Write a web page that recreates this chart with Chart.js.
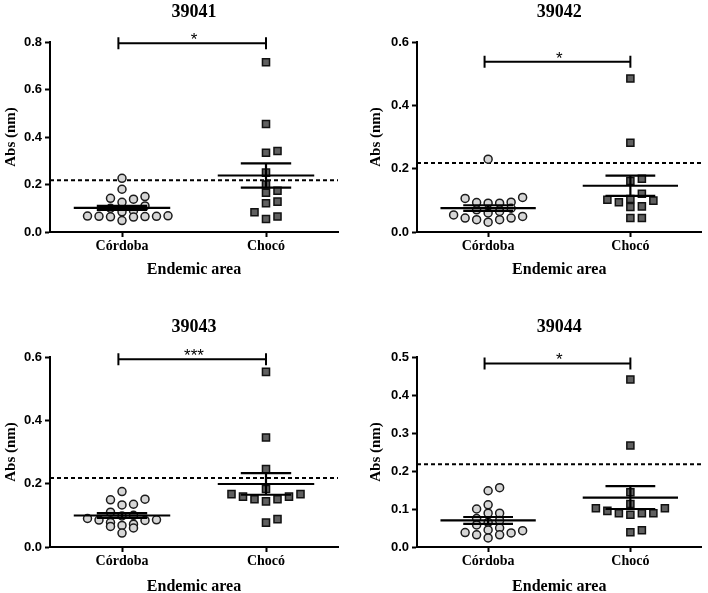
<!DOCTYPE html>
<html><head><meta charset="utf-8">
<script src="https://cdn.jsdelivr.net/npm/chart.js@4.4.1/dist/chart.umd.min.js"></script>
<style>
html,body{margin:0;padding:0;background:#fff;width:708px;height:593px;overflow:hidden}
canvas{position:absolute}
</style></head><body>
<canvas id="c0" width="354" height="278" style="left:0;top:0"></canvas>
<canvas id="c1" width="354" height="278" style="left:354px;top:0"></canvas>
<canvas id="c2" width="354" height="278" style="left:0;top:315px"></canvas>
<canvas id="c3" width="354" height="278" style="left:354px;top:315px"></canvas>
<script>
// ---------- data ----------
const categories = ['Córdoba', 'Chocó'];
const panelTitles = ['39041', '39042', '39043', '39044'];
const xAxisTitle = 'Endemic area';
const yAxisTitle = 'Abs (nm)';

const cordoba39041 = [0.226, 0.180, 0.149, 0.142, 0.138, 0.125, 0.110, 0.100, 0.090, 0.085, 0.068, 0.067, 0.066, 0.066, 0.065, 0.064, 0.063, 0.048];
const choco39041   = [0.715, 0.455, 0.341, 0.334, 0.250, 0.200, 0.174, 0.165, 0.128, 0.121, 0.083, 0.065, 0.055];
const cordoba39042 = [0.230, 0.109, 0.106, 0.094, 0.093, 0.091, 0.091, 0.075, 0.070, 0.065, 0.060, 0.054, 0.049, 0.044, 0.044, 0.039, 0.039, 0.031];
const choco39042   = [0.485, 0.282, 0.168, 0.161, 0.121, 0.104, 0.102, 0.099, 0.094, 0.081, 0.079, 0.044, 0.044];
const cordoba39043 = [0.175, 0.151, 0.149, 0.135, 0.133, 0.110, 0.100, 0.098, 0.090, 0.086, 0.085, 0.084, 0.077, 0.072, 0.068, 0.065, 0.060, 0.044];
const choco39043   = [0.553, 0.346, 0.246, 0.183, 0.167, 0.167, 0.159, 0.159, 0.151, 0.151, 0.144, 0.088, 0.077];
const cordoba39044 = [0.156, 0.148, 0.111, 0.100, 0.089, 0.089, 0.075, 0.070, 0.065, 0.058, 0.050, 0.045, 0.043, 0.038, 0.037, 0.032, 0.032, 0.024];
const choco39044   = [0.441, 0.267, 0.144, 0.113, 0.102, 0.102, 0.095, 0.089, 0.089, 0.089, 0.085, 0.044, 0.039];

const cordobaSeries = [cordoba39041, cordoba39042, cordoba39043, cordoba39044];
const chocoSeries   = [choco39041, choco39042, choco39043, choco39044];

const meanCordoba = [0.102, 0.0755, 0.0995, 0.070];
const semCordoba  = [0.0085, 0.009, 0.0075, 0.009];
const meanChoco   = [0.238, 0.146, 0.199, 0.130];
const semChoco    = [0.051, 0.032, 0.034, 0.030];

const cutoff = 0.218;
const bracketLevel = [0.795, 0.538, 0.593, 0.483];
const sigLabels = ['*', '*', '***', '*'];

const yMaxes = [0.8, 0.6, 0.6, 0.5];
const ySteps = [0.2, 0.2, 0.2, 0.1];

// ---------- styling / layout constants ----------
const SERIF = 'Liberation Serif';
const SANS = 'Liberation Sans';
const COL_PX = 11.5;      // horizontal spacing of spread points
const ROW_TOL_PX = 7.5;   // vertical tolerance for grouping points into rows
const MEAN_HALF = 0.335;
const SEM_HALF = 0.175;
const BRACKET_TICK_PX = 6;
const GAP = {x: NaN, y: NaN};

function meanSemPath(c, m, s) {
  return [
    {x: c - MEAN_HALF, y: m}, {x: c + MEAN_HALF, y: m}, GAP,
    {x: c - SEM_HALF, y: m + s}, {x: c + SEM_HALF, y: m + s}, GAP,
    {x: c - SEM_HALF, y: m - s}, {x: c + SEM_HALF, y: m - s}, GAP,
    {x: c, y: m - s}, {x: c, y: m + s}
  ];
}

function swarm(values, center, chart) {
  const ys = chart.scales.y, xs = chart.scales.x;
  const pxPerY = (ys.bottom - ys.top) / (ys.max - ys.min);
  const pxPerX = (xs.right - xs.left) / (xs.max - xs.min);
  const tol = ROW_TOL_PX / pxPerY;
  const step = COL_PX / pxPerX;
  const idx = values.map((v, i) => i).sort((a, b) => values[a] - values[b]);
  const out = new Array(values.length);
  let k = 0;
  while (k < idx.length) {
    const start = values[idx[k]];
    const row = [];
    let j = k;
    while (j < idx.length && values[idx[j]] <= start + tol + 1e-9) { row.push(idx[j]); j++; }
    row.forEach((p, r) => {
      const c = r === 0 ? 0 : (r % 2 === 1 ? (r + 1) / 2 : -r / 2);
      out[p] = {x: center + c * step, y: values[p]};
    });
    k = j;
  }
  return out;
}

function bracketPath(i, half) {
  const b = bracketLevel[i];
  const x1 = 0.975, x2 = 2;
  return [
    {x: x1, y: b + half}, {x: x1, y: b - half}, GAP,
    {x: x1, y: b}, {x: x2, y: b}, GAP,
    {x: x2, y: b + half}, {x: x2, y: b - half}
  ];
}

const sigPlugin = {
  id: 'sig',
  afterDatasetsDraw(chart, args, opts) {
    const {ctx} = chart;
    const x = chart.scales.x, y = chart.scales.y;
    ctx.save();
    ctx.font = '17px "' + SANS + '"';
    ctx.fillStyle = '#000';
    ctx.textAlign = 'center';
    ctx.textBaseline = 'alphabetic';
    ctx.fillText(opts.label, x.getPixelForValue(1.5), y.getPixelForValue(opts.level) + 2);
    ctx.restore();
  }
};

const lineDs = (data, extra) => Object.assign({
  data, showLine: true, borderColor: '#000', borderWidth: 2.2, pointRadius: 0, pointHoverRadius: 0,
  tension: 0, spanGaps: false, fill: false, borderCapStyle: 'butt'
}, extra || {});

const charts = [];
for (let i = 0; i < 4; i++) {
  const isRight = i % 2 === 1;
  const isBottom = i >= 2;
  const padBottom = isBottom ? 0 : 2;
  const xAxisH = 278 - padBottom - 232;
  const yAxisW = isRight ? 63 : 50;
  const tickFontX = {family: SERIF, size: 14, weight: 'bold'};
  const cfg = {
    type: 'scatter',
    data: {
      datasets: [
        lineDs([{x: 0.5, y: cutoff}, {x: 2.5, y: cutoff}], {borderDash: [4, 3], borderWidth: 2, order: 4}),
        {data: cordobaSeries[i].map(v => ({x: 1, y: v})), pointStyle: 'circle', pointRadius: 4, pointHoverRadius: 4,
         backgroundColor: '#d6d6d6', borderColor: '#1c1c1c', borderWidth: 1.5, order: 3},
        {data: chocoSeries[i].map(v => ({x: 2, y: v})), pointStyle: 'rect', pointRadius: 5, pointHoverRadius: 5,
         backgroundColor: '#606060', borderColor: '#111', borderWidth: 1.5, order: 2},
        lineDs(meanSemPath(1, meanCordoba[i], semCordoba[i]), {order: 1}),
        lineDs(meanSemPath(2, meanChoco[i], semChoco[i]), {order: 1}),
        lineDs(bracketPath(i, 0.02), {order: 0, clip: false, borderWidth: 2})
      ]
    },
    options: {
      responsive: false, animation: false, events: [],
      layout: {padding: {left: 0, right: isRight ? 3 : 16, top: 0, bottom: padBottom}},
      plugins: {
        legend: {display: false}, tooltip: {enabled: false},
        title: {display: true, text: panelTitles[i], fullSize: false, color: '#000',
                font: {family: SERIF, size: 18, weight: 'bold', lineHeight: 1.2},
                padding: {top: 2, bottom: 18.4}},
        sig: {label: sigLabels[i], level: bracketLevel[i]}
      },
      scales: {
        x: {
          type: 'linear', min: 0.5, max: 2.5,
          afterBuildTicks: s => { s.ticks = [{value: 1}, {value: 2}]; },
          afterFit: s => { s.height = xAxisH; },
          ticks: {callback: v => categories[Math.round(v) - 1], font: tickFontX, color: '#000', padding: 1,
                  maxRotation: 0, autoSkip: false},
          grid: {display: true, drawOnChartArea: false, drawTicks: true, tickLength: 5, tickWidth: 2, tickColor: '#000'},
          border: {display: true, color: '#000', width: 2},
          title: {display: true, text: xAxisTitle, color: '#000',
                  font: {family: SERIF, size: 16, weight: 'bold', lineHeight: 0.75}, padding: {top: 0, bottom: 0}}
        },
        y: {
          min: 0, max: yMaxes[i],
          afterFit: s => { s.width = yAxisW; },
          ticks: {stepSize: ySteps[i], callback: v => Number(v).toFixed(1), color: '#000', padding: 3,
                  font: {family: SANS, size: 13, weight: 'bold'}},
          grid: {display: true, drawOnChartArea: false, drawTicks: true, tickLength: 5, tickWidth: 2, tickColor: '#000'},
          border: {display: true, color: '#000', width: 2},
          title: {display: true, text: yAxisTitle, color: '#000',
                  font: {family: SERIF, size: 15, weight: 'bold', lineHeight: 1.2},
                  padding: {top: isRight ? 13 : 2, bottom: 0}}
        }
      }
    },
    plugins: [sigPlugin]
  };
  charts.push(new Chart(document.getElementById('c' + i), cfg));
}

// second pass: spread points horizontally (Prism-style rows) using the scales' pixel sizes
charts.forEach((chart, i) => {
  const ys = chart.scales.y;
  const pxPerY = (ys.bottom - ys.top) / (ys.max - ys.min);
  chart.data.datasets[1].data = swarm(cordobaSeries[i], 1, chart);
  chart.data.datasets[2].data = swarm(chocoSeries[i], 2, chart);
  chart.data.datasets[5].data = bracketPath(i, BRACKET_TICK_PX / pxPerY);
  chart.update('none');
});
</script>
</body></html>
